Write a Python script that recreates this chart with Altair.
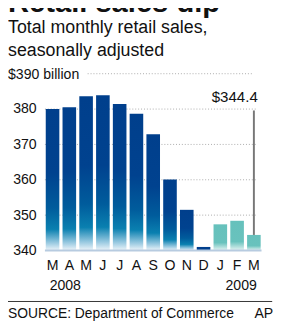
import altair as alt
import pandas as pd

# ---- data ----
month_ids = ["2008-03", "2008-04", "2008-05", "2008-06", "2008-07", "2008-08",
             "2008-09", "2008-10", "2008-11", "2008-12", "2009-01", "2009-02", "2009-03"]
month_labels = ["M", "A", "M", "J", "J", "A", "S", "O", "N", "D", "J", "F", "M"]
sales = [380.0, 380.5, 383.6, 383.9, 381.4, 378.7, 372.9, 360.1, 351.5, 341.0, 347.4, 348.4, 344.4]
groups = ["dark"] * 9 + ["solid"] + ["teal"] * 3
y_ticks = [340, 350, 360, 370, 380]
grid_values = [350, 360, 370, 380]
title_text = "Retail sales dip"
subtitle_lines = ["Total monthly retail sales,", "seasonally adjusted"]
unit_label = "$390 billion"
years = ["2008", "2009"]
source_text = "SOURCE: Department of Commerce"
credit_text = "AP"
callout_label = "$344.4"
callout_top = 379.6

df = pd.DataFrame({"id": month_ids, "label": month_labels, "value": sales, "group": groups})
FONT = "Liberation Sans"
BASE = 340
DOMAIN = [340, 390]

xenc = alt.X("id:O", sort=month_ids, axis=None,
             scale=alt.Scale(paddingInner=0.19, paddingOuter=0.05))
yscale = alt.Scale(domain=DOMAIN, nice=False, zero=False)

blue_grad = alt.Gradient(
    gradient="linear", x1=0, y1=0, x2=0, y2=1,
    stops=[
        alt.GradientStop(offset=0, color="#003f8c"),
        alt.GradientStop(offset=0.45, color="#00428f"),
        alt.GradientStop(offset=0.7, color="#005c9c"),
        alt.GradientStop(offset=0.85, color="#0a80b0"),
        alt.GradientStop(offset=0.95, color="#a0cde3"),
        alt.GradientStop(offset=1, color="#eef5fa"),
    ],
)
teal_grad = alt.Gradient(
    gradient="linear", x1=0, y1=0, x2=0, y2=1,
    stops=[
        alt.GradientStop(offset=0, color="#66c1bc"),
        alt.GradientStop(offset=0.7, color="#69c2bd"),
        alt.GradientStop(offset=1, color="#e6f4f3"),
    ],
)

base = alt.Chart(df)

grid_df = pd.DataFrame({"v": grid_values})
grid = alt.Chart(grid_df).mark_rule(color="#aaaaaa", strokeDash=[1, 2], strokeWidth=1).encode(
    y=alt.Y("v:Q", scale=yscale), x=alt.value(0), x2=alt.value(217)
)
grid390 = alt.Chart(pd.DataFrame({"v": [390]})).mark_rule(
    color="#aaaaaa", strokeDash=[1, 2], strokeWidth=1
).encode(y=alt.Y("v:Q", scale=yscale), x=alt.value(44), x2=alt.value(214))

yaxis_layer = alt.Chart(pd.DataFrame({"v": [BASE]})).mark_point(opacity=0).encode(
    y=alt.Y("v:Q", scale=yscale,
            axis=alt.Axis(values=y_ticks, grid=False, domain=False, ticks=False,
                          labelFontSize=14.5, labelFont=FONT, labelColor="#111111",
                          labelPadding=9, title=None))
)

bars_dark = base.transform_filter(alt.datum.group == "dark").mark_bar(color=blue_grad).encode(
    x=xenc, y=alt.Y("value:Q", scale=yscale), y2=alt.datum(BASE)
)
bars_solid = base.transform_filter(alt.datum.group == "solid").mark_bar(color="#003f8c").encode(
    x=xenc, y=alt.Y("value:Q", scale=yscale), y2=alt.datum(BASE)
)
bars_teal = base.transform_filter(alt.datum.group == "teal").mark_bar(color=teal_grad).encode(
    x=xenc, y=alt.Y("value:Q", scale=yscale), y2=alt.datum(BASE)
)

baseline = alt.Chart(pd.DataFrame({"v": [BASE]})).mark_rule(color="#b7cbe0", strokeWidth=2).encode(
    y=alt.Y("v:Q", scale=yscale), x=alt.value(0), x2=alt.value(223)
)

month_text = base.mark_text(fontSize=14.5, font=FONT, color="#111111", baseline="alphabetic").encode(
    x=xenc, y=alt.value(202), text="label:N"
)

year_first = alt.Chart(pd.DataFrame({"id": [month_ids[0]], "t": [years[0]]})).mark_text(
    fontSize=14.5, font=FONT, color="#111111", align="left", dx=-3, baseline="alphabetic"
).encode(x=xenc, y=alt.value(223), text="t:N")
year_last = alt.Chart(pd.DataFrame({"id": [month_ids[-1]], "t": [years[1]]})).mark_text(
    fontSize=14.5, font=FONT, color="#111111", align="right", dx=3, baseline="alphabetic"
).encode(x=xenc, y=alt.value(223), text="t:N")

callout_df = pd.DataFrame({"id": [month_ids[-1]], "top": [callout_top], "value": [sales[-1]],
                           "t": [callout_label]})
callout_rule = alt.Chart(callout_df).mark_rule(color="#777777", strokeWidth=2).encode(
    x=xenc, y=alt.Y("top:Q", scale=yscale), y2="value:Q"
)
callout_text = alt.Chart(callout_df).mark_text(
    fontSize=15.5, font=FONT, color="#111111", align="right", dx=4, baseline="alphabetic"
).encode(x=xenc, y=alt.value(29), text="t:N")

def label(txt, x, y, size, align="left", weight="normal"):
    return alt.Chart(pd.DataFrame({"t": [txt]})).mark_text(
        fontSize=size, font=FONT, color="#111111", align=align, baseline="alphabetic",
        fontWeight=weight
    ).encode(x=alt.value(x), y=alt.value(y), text="t:N")

title = label(title_text, -38, -64, 30, weight="bold")
sub1 = label(subtitle_lines[0], -38, -42, 18.3)
sub2 = label(subtitle_lines[1], -38, -18, 18.3)
unit = label(unit_label, -38, 5, 14.5)
source = label(source_text, -38, 252, 14.25)
credit = label(credit_text, 235, 252, 14.5, align="right")

sep = alt.Chart(pd.DataFrame({"v": [0]})).mark_rule(color="#333333", strokeWidth=1).encode(
    x=alt.value(-38), x2=alt.value(234), y=alt.value(234.5)
)

chart = alt.layer(
    grid, grid390, yaxis_layer, bars_dark, bars_solid, bars_teal, baseline,
    month_text, year_first, year_last, callout_rule, callout_text,
    title, sub1, sub2, unit, source, credit, sep
).properties(
    width=223, height=182, autosize="none",
    padding={"left": 38, "top": 63, "right": 18, "bottom": 70}
).configure_view(strokeWidth=0).resolve_scale(x="shared", y="shared")

chart.save("out.html", embed_options={"renderer": "svg", "actions": False})
